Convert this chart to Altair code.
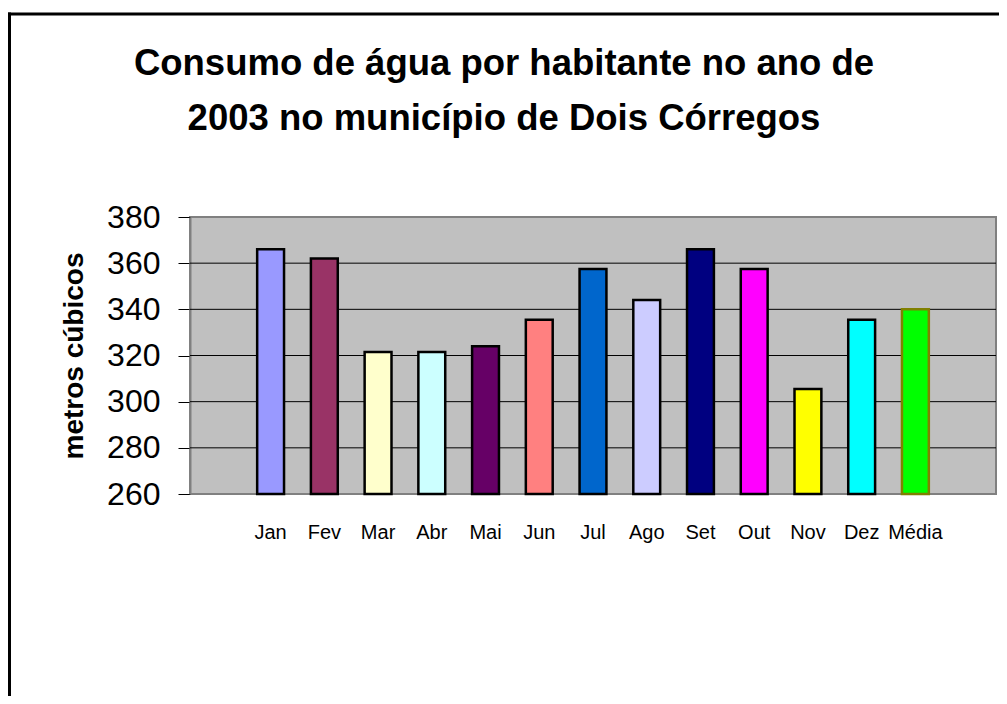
import altair as alt
import pandas as pd

# ---- data ----
months = ["Jan", "Fev", "Mar", "Abr", "Mai", "Jun", "Jul", "Ago", "Set", "Out", "Nov", "Dez", "Média"]
values = [366, 362, 321.5, 321.5, 324, 335.5, 357.5, 344, 366, 357.5, 305.5, 335.5, 340]
fills = ["#9999FF", "#993366", "#FFFFCC", "#CCFFFF", "#660066", "#FF8080", "#0066CC",
         "#CCCCFF", "#000080", "#FF00FF", "#FFFF00", "#00FFFF", "#00FF00"]
strokes = ["#000000"] * 12 + ["#808000"]
y_ticks = [260, 280, 300, 320, 340, 360, 380]
grid_values = [280, 300, 320, 340, 360]
title_lines = ["Consumo de água por habitante no ano de", "2003 no município de Dois Córregos"]
y_title = "metros cúbicos"
base_value = 260

# ---- layout ----
W, H = 806, 277
PAD_L, PAD_T, PAD_R, PAD_B = 182, 209, 3, 202
FONT = "Liberation Sans"
STEP = W / 15.0
X_RANGE = [1.25 * STEP, W - 1.25 * STEP]

df = pd.DataFrame({"mes": months, "valor": values, "fill": fills, "stroke": strokes,
                   "base": [base_value] * len(months)})
grid_df = pd.DataFrame({"valor": grid_values})

x_enc = alt.X("mes:N", sort=months,
              scale=alt.Scale(range=X_RANGE, paddingInner=0.5, paddingOuter=0),
              axis=alt.Axis(title=None, labelAngle=0, labelFontSize=20, labelFont=FONT,
                            labelColor="black", labelPadding=44, labelBaseline="alphabetic",
                            ticks=False, tickSize=0, domain=False, grid=False))
y_scale = alt.Scale(domain=[260, 380], zero=False, nice=False)
y_axis = alt.Axis(values=y_ticks, title=y_title, titleFontSize=28, titleFont=FONT,
                  titleFontWeight="bold", titleColor="black", titleAngle=270,
                  titleAlign="center", titleBaseline="alphabetic",
                  titleX=-108, titleY=H / 2,
                  labelFontSize=32, labelFont=FONT, labelColor="black",
                  labelPadding=18, tickSize=12, tickColor="black", tickWidth=1,
                  domainColor="#808080", domainWidth=2, grid=False)

grid = alt.Chart(grid_df).mark_rule(color="black", strokeWidth=1).encode(
    y=alt.Y("valor:Q", scale=y_scale, axis=y_axis, title=y_title)
)

bars = alt.Chart(df).mark_bar(strokeWidth=2.5).encode(
    x=x_enc,
    y=alt.Y("valor:Q", scale=y_scale, axis=y_axis, title=y_title),
    y2="base:Q",
    fill=alt.Fill("fill:N", scale=None),
    stroke=alt.Stroke("stroke:N", scale=None),
)

one = pd.DataFrame({"a": [0]})
title1 = alt.Chart(pd.DataFrame({"t": [title_lines[0]]})).mark_text(
    font=FONT, fontSize=36.5, fontWeight="bold", align="center", baseline="alphabetic", color="black"
).encode(text="t:N", x=alt.value(314), y=alt.value(-142))
title2 = alt.Chart(pd.DataFrame({"t": [title_lines[1]]})).mark_text(
    font=FONT, fontSize=36.5, fontWeight="bold", align="center", baseline="alphabetic", color="black"
).encode(text="t:N", x=alt.value(314), y=alt.value(-87))

frame_top = alt.Chart(one).mark_rule(color="black", strokeWidth=3).encode(
    x=alt.value(-PAD_L), x2=alt.value(W + PAD_R), y=alt.value(-203))
frame_left = alt.Chart(one).mark_rule(color="black", strokeWidth=3).encode(
    x=alt.value(-180.5), y=alt.value(-204.5), y2=alt.value(H + PAD_B))

chart = alt.layer(frame_top, frame_left, title1, title2, grid, bars).properties(
    width=W, height=H,
    padding={"left": PAD_L, "top": PAD_T, "right": PAD_R, "bottom": PAD_B},
    autosize=alt.AutoSizeParams(type="none"),
    background="white",
).configure_view(fill="#C0C0C0", stroke="#808080", strokeWidth=2)

chart.save("out.html", embed_options={"renderer": "svg", "actions": False})
